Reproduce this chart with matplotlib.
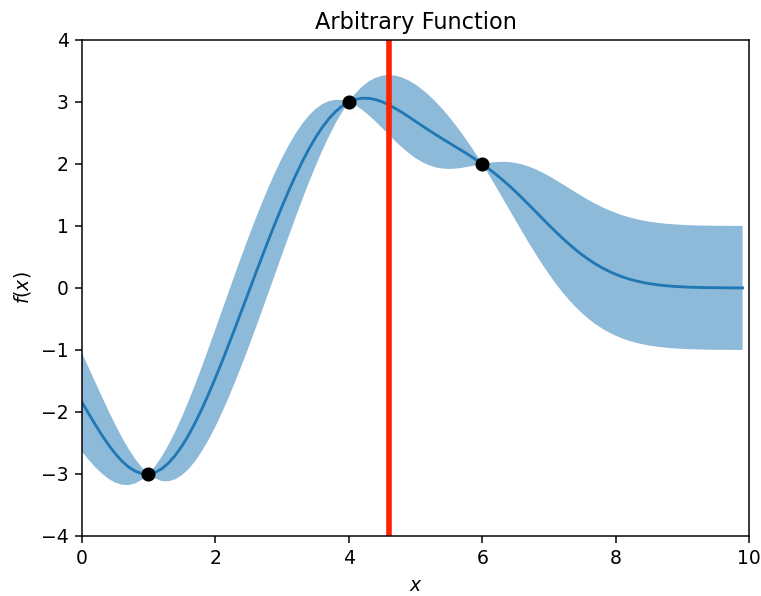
import matplotlib
matplotlib.use("Agg")
import matplotlib.pyplot as plt

x_grid = [0.0, 0.1, 0.2, 0.3, 0.4, 0.5, 0.6, 0.7, 0.8, 0.9,
          1.0, 1.1, 1.2, 1.3, 1.4, 1.5, 1.6, 1.7, 1.8, 1.9,
          2.0, 2.1, 2.2, 2.3, 2.4, 2.5, 2.6, 2.7, 2.8, 2.9,
          3.0, 3.1, 3.2, 3.3, 3.4, 3.5, 3.6, 3.7, 3.8, 3.9,
          4.0, 4.1, 4.2, 4.3, 4.4, 4.5, 4.6, 4.7, 4.8, 4.9,
          5.0, 5.1, 5.2, 5.3, 5.4, 5.5, 5.6, 5.7, 5.8, 5.9,
          6.0, 6.1, 6.2, 6.3, 6.4, 6.5, 6.6, 6.7, 6.8, 6.9,
          7.0, 7.1, 7.2, 7.3, 7.4, 7.5, 7.6, 7.7, 7.8, 7.9,
          8.0, 8.1, 8.2, 8.3, 8.4, 8.5, 8.6, 8.7, 8.8, 8.9,
          9.0, 9.1, 9.2, 9.3, 9.4, 9.5, 9.6, 9.7, 9.8, 9.9]

mean_vals = [-1.838, -2.020, -2.199, -2.370, -2.528, -2.669, -2.790, -2.886, -2.954, -2.993,
             -3.000, -2.974, -2.915, -2.824, -2.702, -2.551, -2.374, -2.172, -1.951, -1.711,
             -1.457, -1.192, -0.917, -0.637, -0.353, -0.067, 0.219, 0.502, 0.780, 1.052,
             1.315, 1.567, 1.806, 2.030, 2.236, 2.422, 2.586, 2.727, 2.843, 2.934,
             3.000, 3.042, 3.061, 3.059, 3.039, 3.003, 2.954, 2.895, 2.830, 2.760,
             2.688, 2.616, 2.545, 2.476, 2.409, 2.343, 2.277, 2.212, 2.144, 2.074,
             2.000, 1.921, 1.837, 1.748, 1.653, 1.553, 1.448, 1.341, 1.232, 1.122,
             1.013, 0.907, 0.805, 0.708, 0.616, 0.532, 0.455, 0.385, 0.323, 0.268,
             0.220, 0.179, 0.144, 0.115, 0.091, 0.071, 0.055, 0.042, 0.032, 0.024,
             0.018, 0.013, 0.010, 0.007, 0.005, 0.004, 0.003, 0.002, 0.001, 0.001]

upper_vals = [-1.043, -1.275, -1.512, -1.747, -1.978, -2.198, -2.405, -2.592, -2.756, -2.892,
              -3.000, -2.874, -2.717, -2.531, -2.318, -2.082, -1.826, -1.553, -1.268, -0.973,
              -0.673, -0.369, -0.066, 0.236, 0.532, 0.822, 1.103, 1.373, 1.630, 1.872,
              2.096, 2.301, 2.485, 2.644, 2.778, 2.885, 2.964, 3.014, 3.036, 3.031,
              3.000, 3.138, 3.248, 3.333, 3.391, 3.425, 3.436, 3.425, 3.395, 3.346,
              3.282, 3.202, 3.110, 3.006, 2.891, 2.765, 2.629, 2.485, 2.331, 2.170,
              2.000, 2.018, 2.031, 2.035, 2.031, 2.017, 1.992, 1.958, 1.915, 1.863,
              1.805, 1.742, 1.676, 1.609, 1.542, 1.477, 1.414, 1.356, 1.302, 1.254,
              1.211, 1.173, 1.140, 1.113, 1.090, 1.070, 1.055, 1.042, 1.032, 1.024,
              1.018, 1.013, 1.010, 1.007, 1.005, 1.003, 1.002, 1.002, 1.001, 1.001]

lower_vals = [-2.633, -2.766, -2.887, -2.992, -3.077, -3.139, -3.174, -3.179, -3.153, -3.094,
              -3.000, -3.074, -3.114, -3.118, -3.086, -3.020, -2.922, -2.792, -2.633, -2.449,
              -2.241, -2.014, -1.769, -1.509, -1.237, -0.955, -0.666, -0.370, -0.070, 0.232,
              0.534, 0.833, 1.128, 1.416, 1.694, 1.959, 2.208, 2.439, 2.650, 2.836,
              3.000, 2.946, 2.874, 2.786, 2.687, 2.581, 2.472, 2.366, 2.265, 2.174,
              2.095, 2.030, 1.981, 1.946, 1.927, 1.920, 1.925, 1.938, 1.957, 1.978,
              2.000, 1.825, 1.644, 1.460, 1.274, 1.089, 0.904, 0.724, 0.549, 0.381,
              0.222, 0.072, -0.066, -0.194, -0.309, -0.413, -0.505, -0.587, -0.657, -0.718,
              -0.771, -0.815, -0.852, -0.882, -0.907, -0.928, -0.944, -0.957, -0.968, -0.976,
              -0.982, -0.987, -0.990, -0.993, -0.995, -0.997, -0.998, -0.998, -0.999, -0.999]

obs_x = [1, 4, 6]
obs_y = [-3, 3, 2]

next_x = 4.6

fig = plt.figure(figsize=(761 / 135, 596 / 135), dpi=135)
ax = fig.add_axes([0.1074, 0.1007, 0.8772, 0.8322])

ax.fill_between(x_grid, lower_vals, upper_vals, alpha=0.5, linewidth=0)
ax.plot(x_grid, mean_vals, color='C0')
ax.plot(obs_x, obs_y, 'ko', markersize=6.5)
ax.axvline(next_x, color='#ff2200', linewidth=3)

ax.set_xlim(0, 10)
ax.set_ylim(-4, 4)
ax.set_title('Arbitrary Function')
ax.set_xlabel('$x$')
ax.set_ylabel('$f(x)$')

fig.savefig('out.png', dpi=135)
